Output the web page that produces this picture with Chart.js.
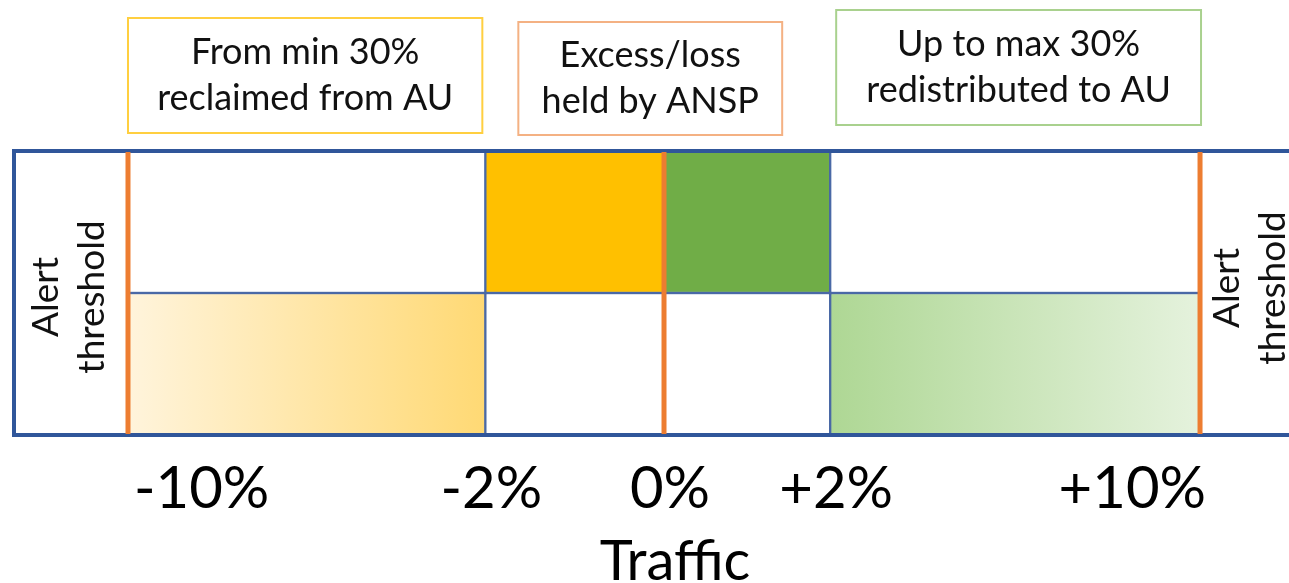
<!DOCTYPE html>
<html>
<head>
<meta charset="utf-8">
<script src="https://cdn.jsdelivr.net/npm/chart.js@4.4.1/dist/chart.umd.min.js"></script>
<style>
  html, body { margin: 0; padding: 0; background: #ffffff; overflow: hidden; }
  #wrap { width: 1289px; height: 583px; overflow: hidden; }
  canvas { display: block; }
</style>
</head>
<body>
<div id="wrap"><canvas id="chart" width="1336" height="583"></canvas></div>
<script>
// Traffic deviation stops along the axis and their labels
const trafficStops = [-10, -2, 0, 2, 10];
const stopLabels = ['-10%', '-2%', '0%', '+2%', '+10%'];

// Two rows: what the ANSP keeps (upper) and what goes to airspace users (lower)
const rowLabels = ['ANSP', 'AU'];

// Cells as [from, to] traffic deviation, one entry per row
const lossHeldByANSP     = [[-2, 0], null];
const excessHeldByANSP   = [[0, 2], null];
const reclaimedFromAU    = [null, [-10, -2]];
const redistributedToAU  = [null, [2, 10]];
const openCellsOuter     = [[-10, -2], [-2, 0]];
const openCellsInner     = [[2, 10], [0, 2]];

// Alert thresholds and the dead-band centre
const thresholdMarks = [-10, 0, 10];

// Callout texts, one per zone
const reclaimText = ['From min 30%', 'reclaimed from AU'];
const heldText = ['Excess/loss', 'held by ANSP'];
const redistributeText = ['Up to max 30%', 'redistributed to AU'];
const alertText = ['Alert', 'threshold'];

const FONT = 'Lato, "Open Sans", sans-serif';
Chart.defaults.font.family = FONT;

// A linear scale whose stops are placed with a schematic (non-proportional) spacing
class StopScale extends Chart.LinearScale {
  toPosition(v) {
    const pos = this.options.stopSpacing;
    const vals = trafficStops;
    if (v <= vals[0]) return pos[0] + (v - vals[0]) * (pos[1] - pos[0]) / (vals[1] - vals[0]);
    for (let i = 1; i < vals.length; i++) {
      if (v <= vals[i]) {
        return pos[i - 1] + (v - vals[i - 1]) * (pos[i] - pos[i - 1]) / (vals[i] - vals[i - 1]);
      }
    }
    const n = vals.length - 1;
    return pos[n] + (v - vals[n]) * (pos[n] - pos[n - 1]) / (vals[n] - vals[n - 1]);
  }
  getPixelForValue(value) {
    if (value === null || value === undefined) return NaN;
    return this.getPixelForDecimal((this.toPosition(value) - this.min) / (this.max - this.min));
  }
}
StopScale.id = 'stops';
StopScale.defaults = Chart.LinearScale.defaults;
Chart.register(StopScale);

function horizontalGradient(from, to) {
  return (ctx) => {
    const chart = ctx.chart;
    const raw = ctx.raw;
    if (!chart.chartArea || !raw) return from;
    const x = chart.scales.x;
    const g = chart.ctx.createLinearGradient(x.getPixelForValue(raw[0]), 0, x.getPixelForValue(raw[1]), 0);
    g.addColorStop(0, from);
    g.addColorStop(1, to);
    return g;
  };
}

const cellBorder = '#4A69A6';
const cell = (label, data, fill) => ({
  label, data,
  backgroundColor: fill,
  borderColor: cellBorder,
  borderWidth: 1.5,
  borderSkipped: false,
  grouped: false,
  barPercentage: 1,
  categoryPercentage: 1
});

// Frame, threshold lines, callouts and side labels
const decorations = {
  id: 'decorations',
  afterDatasetsDraw(chart) {
    const { ctx, chartArea: a } = chart;
    const x = chart.scales.x;
    ctx.save();
    ctx.strokeStyle = '#30569A';
    ctx.lineWidth = 4;
    ctx.strokeRect(a.left, a.top, a.right - a.left, a.bottom - a.top);
    ctx.strokeStyle = '#ED7D31';
    ctx.lineWidth = 5;
    thresholdMarks.forEach(v => {
      const px = x.getPixelForValue(v);
      ctx.beginPath();
      ctx.moveTo(px, a.top + 1);
      ctx.lineTo(px, a.bottom - 1);
      ctx.stroke();
    });
    ctx.restore();
  },
  afterDraw(chart) {
    const { ctx, chartArea: a } = chart;
    const x = chart.scales.x;
    const px = v => x.getPixelForValue(v);
    const boxes = [
      { lines: reclaimText, left: px(-10), right: px(-2) - 3, top: 18, bottom: 133, color: '#FFCF40' },
      { lines: heldText, left: px(-2) + 33, right: px(2) - 48, top: 22, bottom: 135, color: '#F4B183' },
      { lines: redistributeText, left: px(2) + 6, right: px(10) + 1, top: 10, bottom: 125, color: '#A9D18E' }
    ];
    ctx.save();
    ctx.font = '36px ' + FONT;
    ctx.textAlign = 'center';
    ctx.textBaseline = 'middle';
    boxes.forEach(b => {
      ctx.fillStyle = '#ffffff';
      ctx.fillRect(b.left, b.top, b.right - b.left, b.bottom - b.top);
      ctx.strokeStyle = b.color;
      ctx.lineWidth = 2;
      ctx.strokeRect(b.left, b.top, b.right - b.left, b.bottom - b.top);
      ctx.fillStyle = '#111111';
      const cx = (b.left + b.right) / 2;
      const cy = (b.top + b.bottom) / 2;
      ctx.fillText(b.lines[0], cx, cy - 23);
      ctx.fillText(b.lines[1], cx, cy + 23);
    });

    // Rotated "Alert threshold" labels beside each threshold line
    ctx.font = '37px ' + FONT;
    const sides = [
      { cx: px(-10) - 59, cy: (a.top + a.bottom) / 2 + 4 },
      { cx: px(10) + 50, cy: (a.top + a.bottom) / 2 - 5 }
    ];
    sides.forEach(s => {
      ctx.save();
      ctx.translate(s.cx, s.cy);
      ctx.rotate(-Math.PI / 2);
      ctx.fillText(alertText[0], 0, -23);
      ctx.fillText(alertText[1], 0, 23);
      ctx.restore();
    });
    ctx.restore();
  }
};

new Chart(document.getElementById('chart'), {
  type: 'bar',
  data: {
    labels: rowLabels,
    datasets: [
      cell('open', openCellsOuter, '#ffffff'),
      cell('open', openCellsInner, '#ffffff'),
      cell('Loss held by ANSP', lossHeldByANSP, '#FFC000'),
      cell('Excess held by ANSP', excessHeldByANSP, '#70AD47'),
      cell('Reclaimed from AU', reclaimedFromAU, horizontalGradient('#FFF4DC', '#FFD974')),
      cell('Redistributed to AU', redistributedToAU, horizontalGradient('#AED794', '#E5F2DD'))
    ]
  },
  options: {
    indexAxis: 'y',
    responsive: false,
    animation: false,
    events: [],
    layout: { padding: { left: 14, top: 151, right: 0, bottom: 0 } },
    plugins: {
      legend: { display: false },
      tooltip: { enabled: false }
    },
    scales: {
      y: {
        type: 'category',
        display: false
      },
      x: {
        type: 'stops',
        stopSpacing: [0, 2, 3, 3.93, 6],
        min: -0.638,
        max: 6.761,
        bounds: 'data',
        grid: { display: false, drawTicks: false },
        border: { display: false },
        afterBuildTicks: (scale) => {
          scale.ticks = trafficStops.map(v => ({ value: v }));
        },
        ticks: {
          autoSkip: false,
          maxRotation: 0,
          align: 'inner',
          labelOffset: 6,
          padding: 25,
          color: '#000000',
          font: { size: 58, lineHeight: 1 },
          callback: (value) => stopLabels[trafficStops.indexOf(value)]
        },
        title: {
          display: true,
          text: 'Traffic',
          color: '#000000',
          font: { size: 56, lineHeight: 38 / 56 },
          padding: { top: 0, bottom: 2 }
        }
      }
    }
  },
  plugins: [decorations]
});
</script>
</body>
</html>
